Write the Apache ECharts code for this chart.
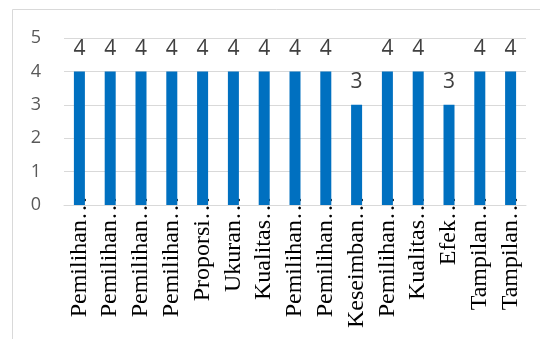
<!DOCTYPE html>
<html>
<head>
<meta charset="utf-8">
<style>
  html, body { margin: 0; padding: 0; background: #ffffff; }
  #chart { width: 540px; height: 339px; }
</style>
<script src="https://cdn.jsdelivr.net/npm/echarts@6/dist/echarts.min.js"></script>
</head>
<body>
<div id="chart"></div>
<script>
// Category names as shown (truncated) on the horizontal axis
const categories = [
  'Pemilihan…', 'Pemilihan…', 'Pemilihan…', 'Pemilihan…', 'Proporsi…',
  'Ukuran…', 'Kualitas…', 'Pemilihan…', 'Pemilihan…', 'Keseimban…',
  'Pemilihan…', 'Kualitas…', 'Efek…', 'Tampilan…', 'Tampilan…'
];
// Score per category
const scores = [4, 4, 4, 4, 4, 4, 4, 4, 4, 3, 4, 4, 3, 4, 4];
// Value axis range
const yMin = 0;
const yMax = 5;
const yStep = 1;

const chart = echarts.init(document.getElementById('chart'), null, { renderer: 'canvas' });

chart.setOption({
  animation: false,
  backgroundColor: '#ffffff',
  graphic: [{
    type: 'rect',
    shape: { x: 12.5, y: 9.5, width: 560, height: 360 },
    style: { fill: 'none', stroke: '#d9d9d9', lineWidth: 1 },
    silent: true
  }],
  grid: { left: 64, right: 14, top: 38, bottom: 134, containLabel: false },
  xAxis: {
    type: 'category',
    data: categories,
    axisLine: { show: true, lineStyle: { color: '#d9d9d9', width: 1 } },
    axisTick: { show: false },
    axisLabel: {
      interval: 0,
      rotate: 90,
      margin: -9,
      color: '#000000',
      fontFamily: 'Liberation Serif',
      fontSize: 24
    }
  },
  yAxis: {
    type: 'value',
    min: yMin,
    max: yMax,
    interval: yStep,
    axisLine: { show: false },
    axisTick: { show: false },
    splitLine: { lineStyle: { color: '#d9d9d9', width: 1 } },
    axisLabel: {
      margin: 23,
      color: '#595959',
      fontFamily: 'Open Sans',
      fontSize: 18
    }
  },
  series: [{
    type: 'bar',
    data: scores,
    barWidth: 11,
    itemStyle: { color: '#0070C0' },
    label: {
      show: true,
      position: 'top',
      distance: 12,
      color: '#404040',
      fontFamily: 'Open Sans',
      fontSize: 21
    }
  }]
});
</script>
</body>
</html>
